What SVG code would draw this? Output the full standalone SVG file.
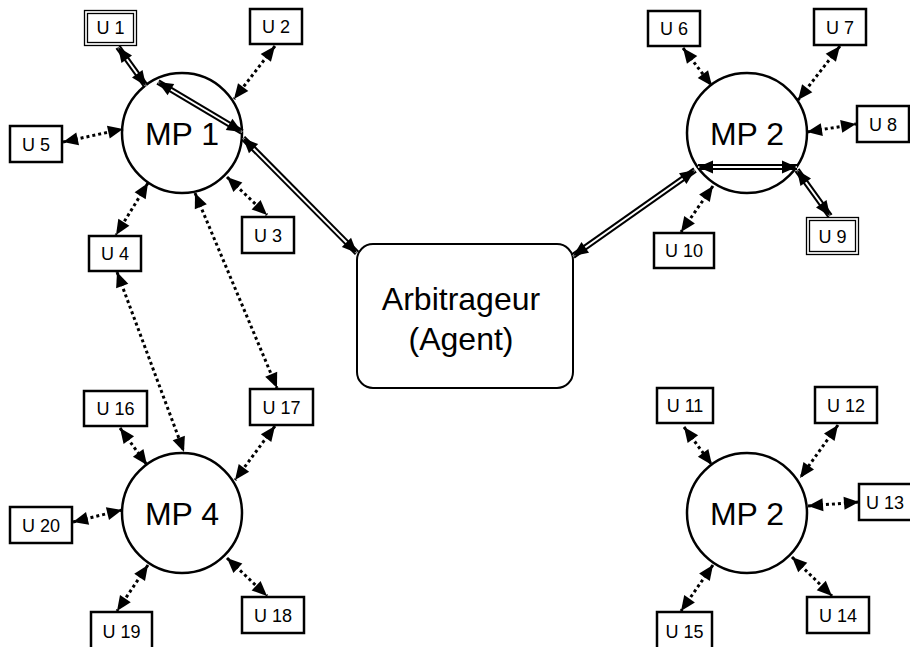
<svg xmlns="http://www.w3.org/2000/svg" xmlns:xlink="http://www.w3.org/1999/xlink" width="910" height="647" viewBox="0 0 910 647">
  <style>
    .mp { fill: #fff; stroke: #000; stroke-width: 2.5; }
    .box { fill: #fff; stroke: #000; stroke-width: 2.5; }
    .dbl { fill: none; stroke: #000; stroke-width: 1.3; }
    .agent { fill: #fff; stroke: #000; stroke-width: 2; }
    .ut { font-family: "Liberation Sans", Arial, sans-serif; font-size: 18px; fill: #000; text-anchor: middle; }
    .big { font-family: "Liberation Sans", Arial, sans-serif; font-size: 32px; fill: #000; text-anchor: middle; }
    .dot { fill: none; stroke: #000; stroke-width: 3; stroke-dasharray: 3 3; marker-start: url(#ah); marker-end: url(#ah); }
    .rail { fill: none; stroke: #000; stroke-width: 6; }
    .core { fill: none; stroke: #fff; stroke-width: 2; }
    .heads { fill: none; stroke: none; marker-start: url(#ah); marker-end: url(#ah); }
  </style>
  <defs>
    <marker id="ah" markerUnits="userSpaceOnUse" markerWidth="15" markerHeight="13" refX="15" refY="6.5" orient="auto-start-reverse" overflow="visible">
      <path d="M0,0 L15,6.5 L0,13 z" fill="#000"/>
    </marker>
    <!-- double-rail links -->
    <path id="r1" d="M118,47 L146,86"/>
    <path id="r2" d="M158,82 L242,132"/>
    <path id="r3" d="M243,138 L357,253"/>
    <path id="r4" d="M797,170 L830,216"/>
    <path id="r5" d="M698,167 L797,167"/>
    <path id="r6" d="M695,170 L573,256"/>
  </defs>

  <rect width="910" height="647" fill="#fff"/>

  <!-- nodes -->
  <g id="mp1"><circle class="mp" cx="182" cy="133" r="60"/><text class="big" x="182" y="145">MP 1</text></g>
  <g id="mp2"><circle class="mp" cx="747" cy="133" r="60"/><text class="big" x="747" y="145">MP 2</text></g>
  <g id="mp4"><circle class="mp" cx="182" cy="513" r="60"/><text class="big" x="182" y="525">MP 4</text></g>
  <g id="mp2b"><circle class="mp" cx="747" cy="513" r="60"/><text class="big" x="747" y="525">MP 2</text></g>

  <g id="agent">
    <rect class="agent" x="357" y="244" width="216" height="144" rx="16"/>
    <text class="big" x="461" y="310">Arbitrageur</text>
    <text class="big" x="461" y="350">(Agent)</text>
  </g>

  <g id="u1"><rect class="dbl" x="84.5" y="10.5" width="52" height="35"/><rect class="dbl" x="87.5" y="13.5" width="46" height="29"/><text class="ut" x="110.5" y="34">U 1</text></g>
  <g id="u2"><rect class="box" x="250" y="9" width="52" height="35"/><text class="ut" x="276" y="33">U 2</text></g>
  <g id="u3"><rect class="box" x="242" y="217" width="52" height="36"/><text class="ut" x="268" y="242">U 3</text></g>
  <g id="u4"><rect class="box" x="89" y="236" width="52" height="35"/><text class="ut" x="115" y="260">U 4</text></g>
  <g id="u5"><rect class="box" x="10" y="126" width="52" height="36"/><text class="ut" x="36" y="151">U 5</text></g>
  <g id="u6"><rect class="box" x="648" y="11" width="52" height="35"/><text class="ut" x="674" y="35">U 6</text></g>
  <g id="u7"><rect class="box" x="814" y="9" width="52" height="36"/><text class="ut" x="840" y="34">U 7</text></g>
  <g id="u8"><rect class="box" x="857" y="106" width="52" height="36"/><text class="ut" x="883" y="131">U 8</text></g>
  <g id="u9"><rect class="dbl" x="806.5" y="217.5" width="52" height="37"/><rect class="dbl" x="809.5" y="220.5" width="46" height="31"/><text class="ut" x="832.5" y="243">U 9</text></g>
  <g id="u10"><rect class="box" x="654" y="233" width="60" height="35"/><text class="ut" x="684" y="257">U 10</text></g>
  <g id="u11"><rect class="box" x="657" y="388" width="56" height="35"/><text class="ut" x="685" y="412">U 11</text></g>
  <g id="u12"><rect class="box" x="815" y="387" width="62" height="36"/><text class="ut" x="846" y="412">U 12</text></g>
  <g id="u13"><rect class="box" x="859" y="484" width="62" height="36"/><text class="ut" x="885" y="509">U 13</text></g>
  <g id="u14"><rect class="box" x="807" y="597" width="62" height="36"/><text class="ut" x="838" y="622">U 14</text></g>
  <g id="u15"><rect class="box" x="657" y="612" width="55" height="37"/><text class="ut" x="684.5" y="638">U 15</text></g>
  <g id="u16"><rect class="box" x="84" y="391" width="63" height="35"/><text class="ut" x="115.5" y="415">U 16</text></g>
  <g id="u17"><rect class="box" x="250" y="389" width="63" height="36"/><text class="ut" x="281.5" y="414">U 17</text></g>
  <g id="u18"><rect class="box" x="242" y="597" width="62" height="36"/><text class="ut" x="273" y="622">U 18</text></g>
  <g id="u19"><rect class="box" x="91" y="612" width="61" height="37"/><text class="ut" x="121.5" y="638">U 19</text></g>
  <g id="u20"><rect class="box" x="10" y="507" width="62" height="36"/><text class="ut" x="41" y="532">U 20</text></g>

  <!-- connectors -->
  <g id="connectors">
    <path class="dot" d="M275,46 L234,99"/>
    <path class="dot" d="M63,142 L123,129"/>
    <path class="dot" d="M227,177 L267,215"/>
    <path class="dot" d="M148,183 L116,235"/>
    <path class="dot" d="M195,193 L277,388"/>
    <path class="dot" d="M117,272 L184,452"/>
    <path class="dot" d="M120,428 L147,465"/>
    <path class="dot" d="M275,426 L235,480"/>
    <path class="dot" d="M73,522 L122,510"/>
    <path class="dot" d="M148,565 L117,611"/>
    <path class="dot" d="M227,558 L267,596"/>
    <path class="dot" d="M683,48 L712,86"/>
    <path class="dot" d="M840,46 L798,100"/>
    <path class="dot" d="M807,132 L856,124"/>
    <path class="dot" d="M713,186 L681,232"/>
    <path class="dot" d="M684,427 L712,465"/>
    <path class="dot" d="M838,425 L800,478"/>
    <path class="dot" d="M808,506 L859,502"/>
    <path class="dot" d="M792,557 L832,596"/>
    <path class="dot" d="M713,565 L681,611"/>

    <g class="rail">
      <use xlink:href="#r1"/><use xlink:href="#r2"/><use xlink:href="#r3"/>
      <use xlink:href="#r4"/><use xlink:href="#r5"/><use xlink:href="#r6"/>
    </g>
    <g class="core">
      <use xlink:href="#r1"/><use xlink:href="#r2"/><use xlink:href="#r3"/>
      <use xlink:href="#r4"/><use xlink:href="#r5"/><use xlink:href="#r6"/>
    </g>
    <g class="heads">
      <use xlink:href="#r1"/><use xlink:href="#r2"/><use xlink:href="#r3"/>
      <use xlink:href="#r4"/><use xlink:href="#r5"/><use xlink:href="#r6"/>
    </g>
  </g>
</svg>
